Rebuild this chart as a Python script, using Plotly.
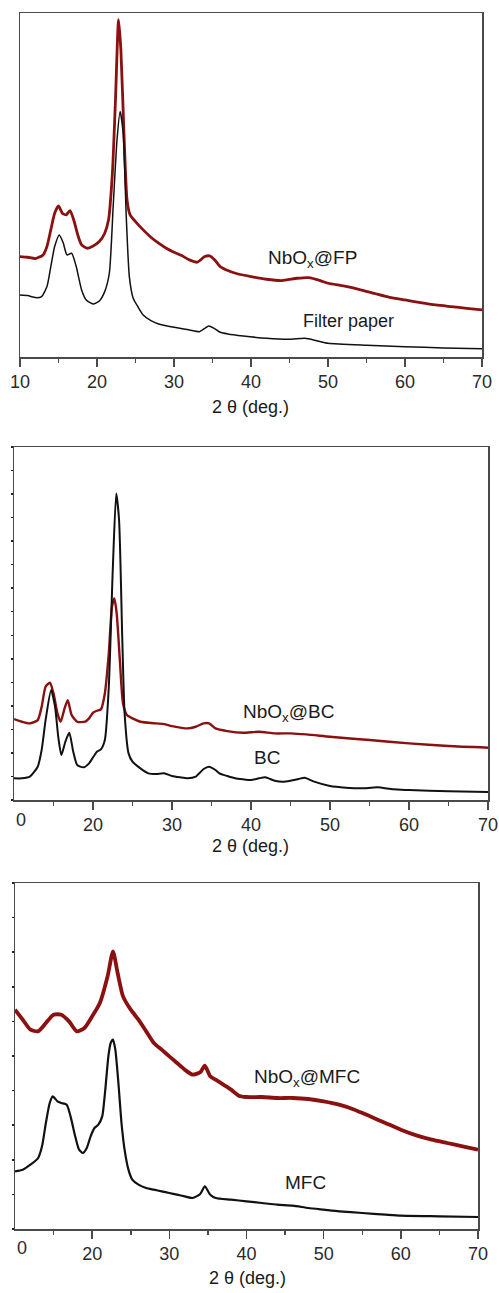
import plotly.graph_objects as go

W, H = 499, 1293

# ---------------- Panel 1: Filter paper ----------------
fp_x = [10, 11, 12, 12.8, 13.5, 14, 14.5, 15.1, 15.6, 16.1, 16.7, 17.3, 18, 18.6, 19.5, 20.3, 21, 21.6,
        22.1, 22.6, 23.0, 23.4, 23.8, 24.2, 24.7, 25.3, 26, 27, 28, 30, 32, 33.3, 34.0, 34.5, 35.2, 36, 37,
        39, 42, 45, 47, 48.5, 50, 55, 60, 65, 70]
fp_y = [186, 184, 178, 181, 211, 271, 331, 366, 343, 306, 311, 271, 201, 171, 159, 168, 196, 251,
        451, 651, 736, 671, 421, 241, 176, 151, 126, 109, 99, 89, 81, 76, 86, 93, 86, 74, 69,
        63, 56, 53, 56, 49, 41, 35, 31, 27, 25]

nbfp_x = [10, 11, 12, 13, 13.5, 14, 14.5, 15.0, 15.5, 16, 16.5, 17, 17.5, 18, 18.7, 19.5, 20.3, 21, 21.5,
          22, 22.4, 22.8, 23.1, 23.5, 23.9, 24.3, 25, 26, 27, 28, 29, 30, 31, 32, 33, 34, 34.6, 35.3, 36,
          37, 38, 40, 42, 44, 46, 47.5, 49, 50, 52, 54, 56, 58, 60, 62, 64, 66, 68, 70]
nbfp_y = [301, 299, 295, 306, 331, 381, 431, 453, 431, 426, 439, 409, 366, 336, 326, 333, 346, 371, 411,
          551, 771, 1011, 921, 671, 471, 426, 406, 381, 359, 341, 326, 314, 304, 291, 284, 301, 303, 291, 271,
          259, 251, 241, 233, 229, 236, 238, 229, 221, 213, 203, 191, 179, 171, 163, 156, 151, 146, 141]

# ---------------- Panel 2: Bacterial cellulose ----------------
bc_x = [10, 11, 12, 13, 13.5, 14, 14.7, 15.2, 15.6, 16.0, 16.5, 17.0, 17.5, 18, 18.8, 19.5, 20, 20.5, 21,
        21.5, 22, 22.5, 22.94, 23.3, 23.7, 24, 24.5, 25, 26, 27, 28, 29, 30, 31, 32, 33, 34, 34.7, 35.5,
        36, 37, 38, 39, 40, 41, 41.8, 43, 44, 45, 46, 46.8, 48, 50, 52, 54, 56, 58, 60, 65, 70]
bc_y = [65, 65, 70, 100, 150, 240, 330, 280, 190, 135, 175, 202, 145, 105, 98, 110, 128, 145, 152,
        180, 340, 690, 920, 840, 490, 260, 140, 115, 95, 80, 78, 80, 72, 68, 65, 70, 93, 100, 90,
        80, 72, 65, 62, 60, 65, 68, 58, 55, 58, 63, 67, 55, 42, 37, 35, 38, 32, 30, 26, 24]

nbbc_x = [10, 11, 12, 13, 13.5, 14, 14.55, 15, 15.5, 15.9, 16.4, 16.8, 17.3, 18, 19, 19.5, 20, 20.5, 21,
          21.5, 22, 22.4, 22.7, 23.0, 23.4, 23.8, 24.3, 25, 26, 28, 29, 30, 32, 33, 34, 34.7, 35.5, 37,
          39, 41, 43, 45, 47, 50, 55, 60, 65, 70]
nbbc_y = [243, 235, 230, 240, 280, 340, 352, 320, 260, 235, 275, 300, 255, 235, 235, 245, 262, 268, 272,
          320, 440, 580, 605, 560, 420, 290, 255, 245, 235, 230, 228, 222, 215, 220, 230, 230, 215, 207,
          202, 205, 200, 200, 197, 190, 180, 170, 162, 157]

# ---------------- Panel 3: Microfibrillated cellulose ----------------
mfc_x = [10, 11, 12, 13, 13.5, 14, 14.5, 14.9, 15.5, 16, 16.7, 17.2, 17.8, 18.3, 18.8, 19.3, 19.8, 20.3,
         20.8, 21.3, 21.7, 22.1, 22.4, 22.7, 23.0, 23.4, 23.8, 24.2, 24.7, 25.2, 26, 27, 28, 29, 30, 31,
         32, 33, 34, 34.6, 35.3, 36, 38, 40, 42, 44, 46, 48, 50, 52, 55, 58, 60, 65, 70]
mfc_y = [173, 178, 193, 213, 248, 318, 378, 398, 383, 378, 373, 338, 278, 238, 228, 243, 278, 303,
         313, 338, 418, 518, 558, 568, 538, 438, 318, 238, 178, 148, 133, 123, 118, 113, 108, 103,
         98, 93, 105, 128, 103, 93, 88, 83, 78, 73, 70, 63, 58, 53, 48, 43, 40, 38, 36]

nbmfc_x = [10, 11, 12, 13, 14, 15, 16, 17, 18, 19, 20, 21, 22, 22.7, 23.3, 24, 25, 26, 27, 28, 29, 30,
           31, 32, 33, 34, 34.6, 35.3, 36, 37, 38, 39, 40, 42, 44, 46, 48, 50, 52, 54, 56, 58, 60, 62,
           64, 66, 68, 70]
nbmfc_y = [658, 628, 598, 593, 618, 643, 643, 623, 593, 603, 638, 678, 758, 833, 768, 698, 658, 628,
           593, 558, 538, 518, 498, 478, 463, 470, 490, 458, 448, 433, 418, 400, 396, 396, 393, 393, 390,
           383, 373, 358, 338, 318, 298, 281, 268, 258, 248, 238]

x_ticks_top = [10, 20, 30, 40, 50, 60, 70]
x_ticks_cut = [20, 30, 40, 50, 60, 70]
x_minor = [15, 25, 35, 45, 55, 65]
x_title = "2 θ (deg.)"

RED = "#8b1010"
BLACK = "#111111"
FRAME = "#4a4a4a"
FONT = "Liberation Sans, Arial, sans-serif"


def px_x(p):
    return p / W


def px_y(p):
    return 1 - p / H


# pixel frames: (left, right, top, bottom)
frames = [(20, 482, 13, 357), (14, 488, 447, 800), (15, 478, 883, 1229)]
yranges = [[0, 1031], [0, 1060], [0, 1038]]
ydticks = [None, 70.67, 103.8]

fig = go.Figure()

series = [
    (nbfp_x, nbfp_y, RED, 2.8, "NbOx@FP"),
    (fp_x, fp_y, BLACK, 1.5, "Filter paper"),
    (nbbc_x, nbbc_y, RED, 2.4, "NbOx@BC"),
    (bc_x, bc_y, BLACK, 2.0, "BC"),
    (nbmfc_x, nbmfc_y, RED, 3.8, "NbOx@MFC"),
    (mfc_x, mfc_y, BLACK, 2.2, "MFC"),
]
for i, (xs, ys, col, lw, name) in enumerate(series):
    k = i // 2 + 1
    fig.add_trace(go.Scatter(x=xs, y=ys, mode="lines", name=name,
                             line=dict(color=col, width=lw, shape="spline", smoothing=0.6),
                             xaxis="x" if k == 1 else f"x{k}",
                             yaxis="y" if k == 1 else f"y{k}",
                             showlegend=False, hoverinfo="skip"))

layout = dict(width=W, height=H, margin=dict(l=0, r=0, t=0, b=0),
              paper_bgcolor="white", plot_bgcolor="white",
              font=dict(family=FONT, size=18, color="#2a2a2a"))

for k, ((l, r, t, b), yr, dt) in enumerate(zip(frames, yranges, ydticks), start=1):
    xa = "xaxis" if k == 1 else f"xaxis{k}"
    ya = "yaxis" if k == 1 else f"yaxis{k}"
    tv = x_ticks_top if k == 1 else x_ticks_cut
    layout[xa] = dict(domain=[px_x(l), px_x(r)], range=[10, 70],
                      anchor="y" if k == 1 else f"y{k}",
                      tickmode="array", tickvals=tv, ticktext=[str(v) for v in tv],
                      ticks="outside", ticklen=8, tickwidth=1.5, tickcolor=FRAME,
                      minor=dict(ticks="outside", ticklen=4, tickwidth=1.5, tickcolor=FRAME,
                                 tickvals=x_minor),
                      showline=True, linecolor=FRAME, linewidth=1.5, mirror=True,
                      showgrid=False, zeroline=False, automargin=False,
                      tickfont=dict(size=18, color="#2a2a2a"))
    ydict = dict(domain=[px_y(b), px_y(t)], range=yr,
                 anchor="x" if k == 1 else f"x{k}",
                 showline=True, linecolor=FRAME, linewidth=1.5, mirror=True,
                 showgrid=False, zeroline=False, showticklabels=False, automargin=False)
    if dt is None:
        ydict["ticks"] = ""
    else:
        ydict.update(ticks="outside", ticklen=2, tickwidth=1.5, tickcolor="#222222",
                     tick0=0, dtick=dt)
    layout[ya] = ydict

fig.update_layout(**layout)

annots = [
    ("NbO<sub>x</sub>@FP", 312, 259, 19),
    ("Filter paper", 348, 321, 18),
    ("NbO<sub>x</sub>@BC", 288, 713, 19),
    ("BC", 267, 757, 19),
    ("NbO<sub>x</sub>@MFC", 307, 1078, 19),
    ("MFC", 305, 1182, 19),
    (x_title, 251, 407, 18),
    (x_title, 251, 846, 18),
    (x_title, 247, 1278, 18),
]
for txt, cx, cy, fs in annots:
    fig.add_annotation(text=txt, x=px_x(cx), y=px_y(cy), xref="paper", yref="paper",
                       xanchor="center", yanchor="middle", showarrow=False,
                       font=dict(family=FONT, size=fs, color="#1a1a1a"))

# cropped "10" labels on panels 2 and 3 (only the "0" is visible)
for cx, cy in [(14, 820), (15, 1248)]:
    fig.add_annotation(text="0", x=px_x(cx), y=px_y(cy), xref="paper", yref="paper",
                       xanchor="left", yanchor="middle", showarrow=False,
                       font=dict(family=FONT, size=18, color="#2a2a2a"))

fig.write_html("out.html", config={"displayModeBar": False, "staticPlot": True},
               post_script="document.body.style.margin='0';document.body.style.overflow='hidden';")
